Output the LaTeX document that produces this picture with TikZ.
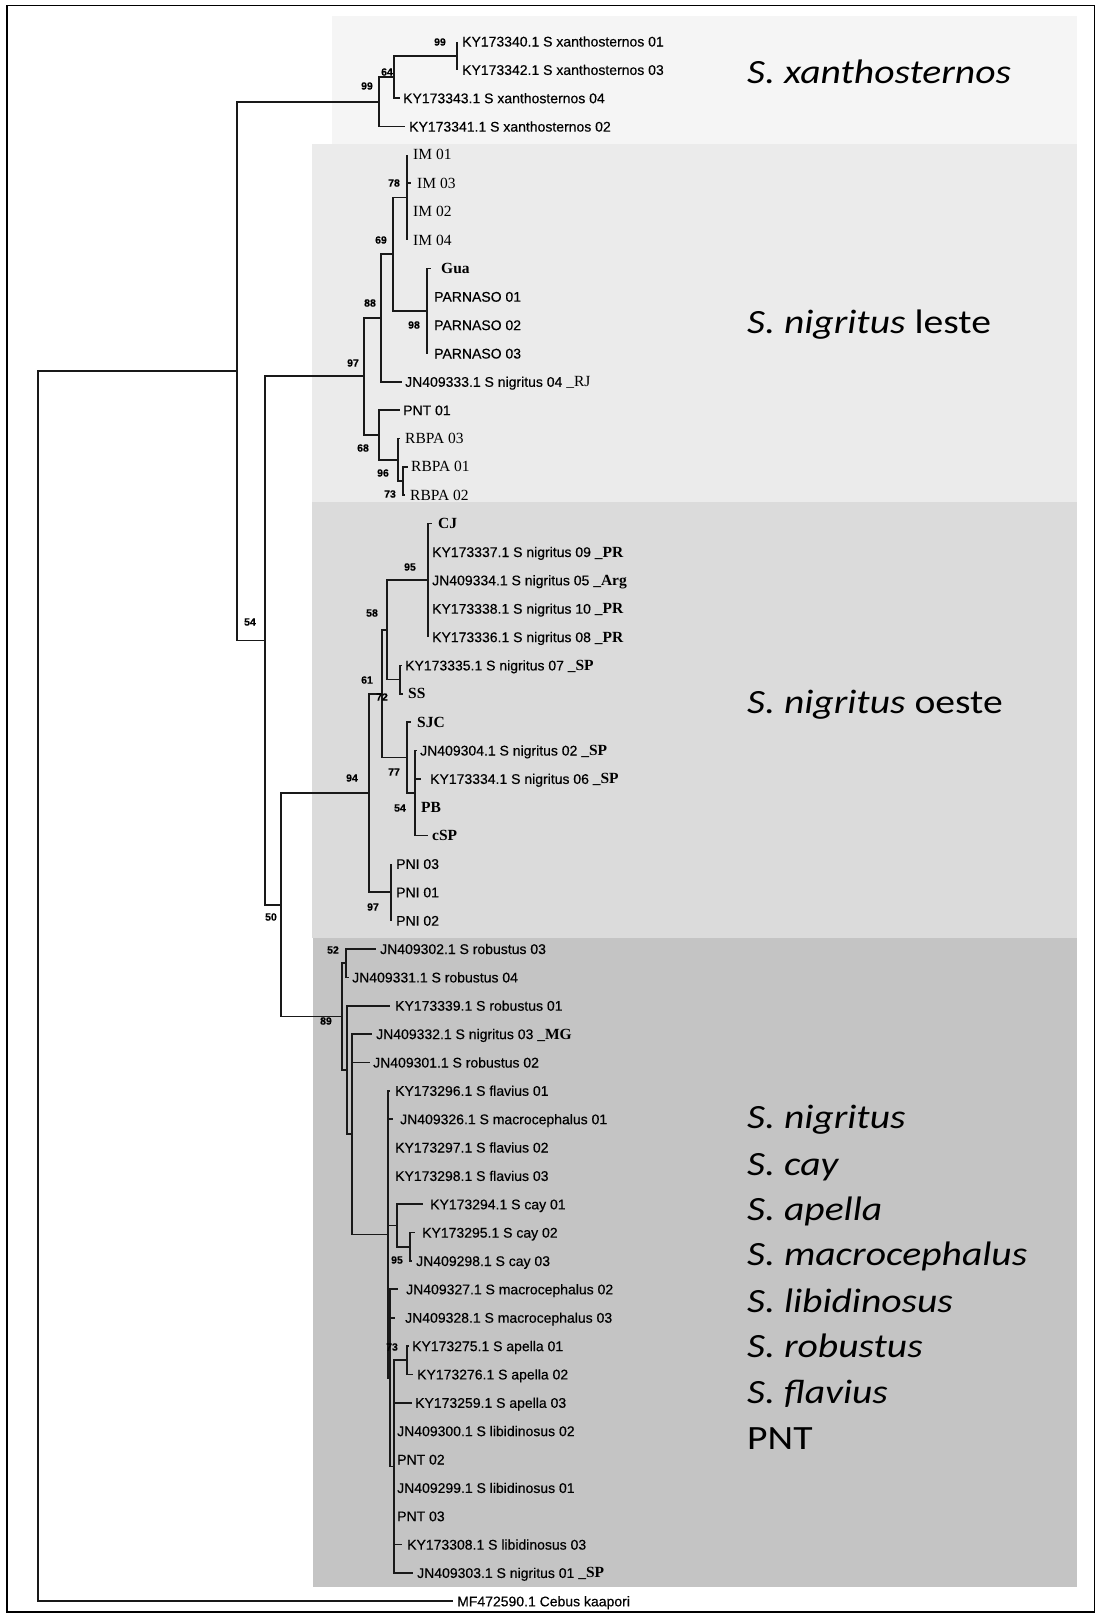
\documentclass[tikz,border=0pt]{standalone}
\usepackage{graphicx}
\usepackage{fontspec}
\setmainfont{Liberation Sans}[FakeBold=0.35]
\newfontfamily\tmsfont{Liberation Serif}
\newfontfamily\calfont{Carlito}
\newcommand\tbx[1]{{\tmsfont\bfseries\fontsize{15.5}{18}\selectfont #1}}
\newcommand\widetxt[1]{\scalebox{1.165}[1]{#1}}
\begin{document}
\begin{tikzpicture}[x=1pt,y=-1pt,
  br/.style={line width=1.7pt, draw=black!90},
  lf/.style={anchor=base west, inner sep=0pt, font=\fontsize{14}{16}\selectfont},
  tl/.style={anchor=base west, inner sep=0pt, font=\tmsfont\fontsize{15.5}{18}\selectfont},
  tlb/.style={anchor=base west, inner sep=0pt, font=\tmsfont\bfseries\fontsize{15.5}{18}\selectfont},
  bs/.style={inner sep=0pt, font=\bfseries\fontsize{10.5}{12}\selectfont},
  big/.style={anchor=base west, inner sep=0pt, font=\calfont\fontsize{34}{40}\selectfont}]
\useasboundingbox (0,0) rectangle (1097,1615);
\fill[white] (0,0) rectangle (1097,1615);
% shaded groups
\fill[fill=black!4] (332,16) rectangle (1077,144);
\fill[fill=black!8] (312,144) rectangle (1077,502);
\fill[fill=black!14] (312,502) rectangle (1077,938);
\fill[fill=black!23] (313,938) rectangle (1077,1587);
\draw[line width=1.6pt] (7,5.5) rectangle (1094.5,1612);
% internal nodes
\coordinate (root) at (38,986.2);
\coordinate (nI) at (237,371.1);
\coordinate (nR) at (265,640.4);
\coordinate (nR2) at (281,904.8);
\coordinate (nX) at (379,101.8);
\coordinate (nX64) at (394,77);
\coordinate (nX99) at (457,55.7);
\coordinate (nL97) at (364,376);
\coordinate (nL88) at (381,318);
\coordinate (nL69) at (393,254);
\coordinate (nL78) at (407,197.5);
\coordinate (nL98) at (427,311);
\coordinate (nL68) at (379,435);
\coordinate (nL96) at (398,460);
\coordinate (nL73) at (403,481);
\coordinate (nO94) at (369,793);
\coordinate (nO61) at (382,693.8);
\coordinate (nO58) at (387,630);
\coordinate (nO95) at (428,580.3);
\coordinate (nO72) at (400,679.6);
\coordinate (nO77) at (407,757.6);
\coordinate (nO54) at (415,793);
\coordinate (nO97) at (391,892.3);
\coordinate (nB89) at (342,1016.5);
\coordinate (nB52) at (346,963.2);
\coordinate (nBC) at (347,1069.9);
\coordinate (nBD) at (352,1134);
\coordinate (nBE) at (388,1234.4);
\coordinate (nBF) at (397,1225.5);
\coordinate (nB95) at (410,1246.8);
\coordinate (nBG) at (390,1378);
\coordinate (nBI) at (394,1466.6);
\coordinate (nB73) at (407,1360.3);
% leaf tips
\coordinate (t1) at (457,41.5);
\coordinate (t2) at (457,69.9);
\coordinate (t3) at (400,98.2);
\coordinate (t4) at (405,126.6);
\coordinate (t5) at (407,154.9);
\coordinate (t6) at (411,183.3);
\coordinate (t7) at (407,211.7);
\coordinate (t8) at (407,240.0);
\coordinate (t9) at (431,268.4);
\coordinate (t10) at (427,296.7);
\coordinate (t11) at (427,325.1);
\coordinate (t12) at (427,353.5);
\coordinate (t13) at (402,381.8);
\coordinate (t14) at (400,410.2);
\coordinate (t15) at (400,438.5);
\coordinate (t16) at (408,466.9);
\coordinate (t17) at (405,495.3);
\coordinate (t18) at (432,523.6);
\coordinate (t19) at (428,552.0);
\coordinate (t20) at (428,580.3);
\coordinate (t21) at (428,608.7);
\coordinate (t22) at (428,637.1);
\coordinate (t23) at (402,665.4);
\coordinate (t24) at (403,693.8);
\coordinate (t25) at (411,722.1);
\coordinate (t26) at (417,750.5);
\coordinate (t27) at (421,778.9);
\coordinate (t28) at (415,807.2);
\coordinate (t29) at (428,835.6);
\coordinate (t30) at (391,863.9);
\coordinate (t31) at (391,892.3);
\coordinate (t32) at (391,920.7);
\coordinate (t33) at (376,949.0);
\coordinate (t34) at (349,977.4);
\coordinate (t35) at (390,1005.7);
\coordinate (t36) at (372,1034.1);
\coordinate (t37) at (370,1062.5);
\coordinate (t38) at (390,1090.8);
\coordinate (t39) at (393,1119.2);
\coordinate (t40) at (388,1147.5);
\coordinate (t41) at (388,1175.9);
\coordinate (t42) at (423,1204.3);
\coordinate (t43) at (415,1232.6);
\coordinate (t44) at (412,1261.0);
\coordinate (t45) at (398,1289.3);
\coordinate (t46) at (395,1317.7);
\coordinate (t47) at (409,1346.1);
\coordinate (t48) at (413,1374.4);
\coordinate (t49) at (412,1402.8);
\coordinate (t50) at (394,1431.1);
\coordinate (t51) at (394,1459.5);
\coordinate (t52) at (394,1487.9);
\coordinate (t53) at (394,1516.2);
\coordinate (t54) at (402,1544.6);
\coordinate (t55) at (413,1572.9);
\coordinate (t56) at (453,1601.3);
% branches
\foreach \p/\c in {root/nI,root/t56,nI/nX,nI/nR,
  nX/nX64,nX/t4,nX64/nX99,nX64/t3,nX99/t1,nX99/t2,
  nR/nL97,nR/nR2,
  nL97/nL88,nL97/nL68,nL88/nL69,nL88/t13,nL69/nL78,nL69/nL98,
  nL78/t5,nL78/t6,nL78/t7,nL78/t8,nL98/t9,nL98/t10,nL98/t11,nL98/t12,
  nL68/t14,nL68/nL96,nL96/t15,nL96/nL73,nL73/t16,nL73/t17,
  nR2/nO94,nR2/nB89,
  nO94/nO61,nO94/nO97,nO61/nO58,nO61/nO77,nO58/nO95,nO58/nO72,
  nO95/t18,nO95/t19,nO95/t20,nO95/t21,nO95/t22,nO72/t23,nO72/t24,
  nO77/t25,nO77/nO54,nO54/t26,nO54/t27,nO54/t28,nO54/t29,
  nO97/t30,nO97/t31,nO97/t32,
  nB89/nB52,nB89/nBC,nB52/t33,nB52/t34,nBC/t35,nBC/nBD,
  nBD/t36,nBD/t37,nBD/nBE,
  nBE/t38,nBE/t39,nBE/t40,nBE/t41,nBE/nBF,nBE/nBG,
  nBF/t42,nBF/nB95,nB95/t43,nB95/t44,
  nBG/t45,nBG/t46,nBG/nBI,
  nBI/nB73,nBI/t49,nBI/t50,nBI/t51,nBI/t52,nBI/t53,nBI/t54,nBI/t55,
  nB73/t47,nB73/t48}
  \draw[br] (\p) |- (\c);
% leaf labels
\node[lf] (l1) at (462,46.5) {KY173340.1 S xanthosternos 01};
\node[lf] (l2) at (462,74.9) {KY173342.1 S xanthosternos 03};
\node[lf] (l3) at (403,103.2) {KY173343.1 S xanthosternos 04};
\node[lf] (l4) at (409,131.6) {KY173341.1 S xanthosternos 02};
\node[tl] (l5) at (413,159.9) {IM 01};
\node[tl] (l6) at (417,188.3) {IM 03};
\node[tl] (l7) at (413,216.7) {IM 02};
\node[tl] (l8) at (413,245.0) {IM 04};
\node[tlb] (l9) at (441,273.4) {Gua};
\node[lf] (l10) at (434,301.7) {PARNASO 01};
\node[lf] (l11) at (434,330.1) {PARNASO 02};
\node[lf] (l12) at (434,358.5) {PARNASO 03};
\node[lf] (l13) at (405,386.8) {JN409333.1 S nigritus 04 {\tmsfont\fontsize{15.5}{18}\selectfont\_RJ}};
\node[lf] (l14) at (403,415.2) {PNT 01};
\node[tl] (l15) at (405,443.5) {RBPA 03};
\node[tl] (l16) at (411,471.9) {RBPA 01};
\node[tl] (l17) at (410,500.3) {RBPA 02};
\node[tlb] (l18) at (438,528.6) {CJ};
\node[lf] (l19) at (432,557.0) {KY173337.1 S nigritus 09 \tbx{\_PR}};
\node[lf] (l20) at (432,585.3) {JN409334.1 S nigritus 05 \tbx{\_Arg}};
\node[lf] (l21) at (432,613.7) {KY173338.1 S nigritus 10 \tbx{\_PR}};
\node[lf] (l22) at (432,642.1) {KY173336.1 S nigritus 08 \tbx{\_PR}};
\node[lf] (l23) at (405,670.4) {KY173335.1 S nigritus 07 \tbx{\_SP}};
\node[tlb] (l24) at (408,698.8) {SS};
\node[tlb] (l25) at (417,727.1) {SJC};
\node[lf] (l26) at (420,755.5) {JN409304.1 S nigritus 02 \tbx{\_SP}};
\node[lf] (l27) at (430,783.9) {KY173334.1 S nigritus 06 \tbx{\_SP}};
\node[tlb] (l28) at (421,812.2) {PB};
\node[tlb] (l29) at (432,840.6) {cSP};
\node[lf] (l30) at (396,868.9) {PNI 03};
\node[lf] (l31) at (396,897.3) {PNI 01};
\node[lf] (l32) at (396,925.7) {PNI 02};
\node[lf] (l33) at (380,954.0) {JN409302.1 S robustus 03};
\node[lf] (l34) at (352,982.4) {JN409331.1 S robustus 04};
\node[lf] (l35) at (395,1010.7) {KY173339.1 S robustus 01};
\node[lf] (l36) at (376,1039.1) {JN409332.1 S nigritus 03 \tbx{\_MG}};
\node[lf] (l37) at (373,1067.5) {JN409301.1 S robustus 02};
\node[lf] (l38) at (395,1095.8) {KY173296.1 S flavius 01};
\node[lf] (l39) at (400,1124.2) {JN409326.1 S macrocephalus 01};
\node[lf] (l40) at (395,1152.5) {KY173297.1 S flavius 02};
\node[lf] (l41) at (395,1180.9) {KY173298.1 S flavius 03};
\node[lf] (l42) at (430,1209.3) {KY173294.1 S cay 01};
\node[lf] (l43) at (422,1237.6) {KY173295.1 S cay 02};
\node[lf] (l44) at (416,1266.0) {JN409298.1 S cay 03};
\node[lf] (l45) at (406,1294.3) {JN409327.1 S macrocephalus 02};
\node[lf] (l46) at (405,1322.7) {JN409328.1 S macrocephalus 03};
\node[lf] (l47) at (412,1351.1) {KY173275.1 S apella 01};
\node[lf] (l48) at (417,1379.4) {KY173276.1 S apella 02};
\node[lf] (l49) at (415,1407.8) {KY173259.1 S apella 03};
\node[lf] (l50) at (397,1436.1) {JN409300.1 S libidinosus 02};
\node[lf] (l51) at (397,1464.5) {PNT 02};
\node[lf] (l52) at (397,1492.9) {JN409299.1 S libidinosus 01};
\node[lf] (l53) at (397,1521.2) {PNT 03};
\node[lf] (l54) at (407,1549.6) {KY173308.1 S libidinosus 03};
\node[lf] (l55) at (417,1577.9) {JN409303.1 S nigritus 01 \tbx{\_SP}};
\node[lf] (l56) at (457,1606.3) {MF472590.1 Cebus kaapori};
% bootstrap values
\node[bs] (b1) at (440,42) {99};
\node[bs] (b2) at (387,72) {64};
\node[bs] (b3) at (367,86) {99};
\node[bs] (b4) at (394,183) {78};
\node[bs] (b5) at (381,240) {69};
\node[bs] (b6) at (370,303) {88};
\node[bs] (b7) at (414,325) {98};
\node[bs] (b8) at (353,363) {97};
\node[bs] (b9) at (363,448) {68};
\node[bs] (b10) at (383,473) {96};
\node[bs] (b11) at (390,494) {73};
\node[bs] (b12) at (410,567) {95};
\node[bs] (b13) at (372,613) {58};
\node[bs] (b14) at (367,680) {61};
\node[bs] (b15) at (382,697) {72};
\node[bs] (b16) at (394,772) {77};
\node[bs] (b17) at (352,778) {94};
\node[bs] (b18) at (400,808) {54};
\node[bs] (b19) at (373,907) {97};
\node[bs] (b20) at (333,950) {52};
\node[bs] (b21) at (326,1021) {89};
\node[bs] (b22) at (397,1260) {95};
\node[bs] (b23) at (392,1347) {73};
\node[bs] (b24) at (250,622) {54};
\node[bs] (b25) at (271,917) {50};
% group names
\node[big] (gx) at (747,83) {\widetxt{\itshape S. xanthosternos}};
\node[big] (gl) at (747,333) {\widetxt{\itshape S. nigritus\/ \upshape leste}};
\node[big] (go) at (747,713) {\widetxt{\itshape S. nigritus\/ \upshape oeste}};
\node[big] (g1) at (747,1128.6) {\widetxt{\itshape S. nigritus}};
\node[big] (g2) at (747,1175) {\widetxt{\itshape S. cay}};
\node[big] (g3) at (747,1220) {\widetxt{\itshape S. apella}};
\node[big] (g4) at (747,1265.6) {\widetxt{\itshape S. macrocephalus}};
\node[big] (g5) at (747,1312) {\widetxt{\itshape S. libidinosus}};
\node[big] (g6) at (747,1357) {\widetxt{\itshape S. robustus}};
\node[big] (g7) at (747,1403.6) {\widetxt{\itshape S. flavius}};
\node[big] (g8) at (747,1449) {\widetxt{PNT}};
\end{tikzpicture}
\end{document}
